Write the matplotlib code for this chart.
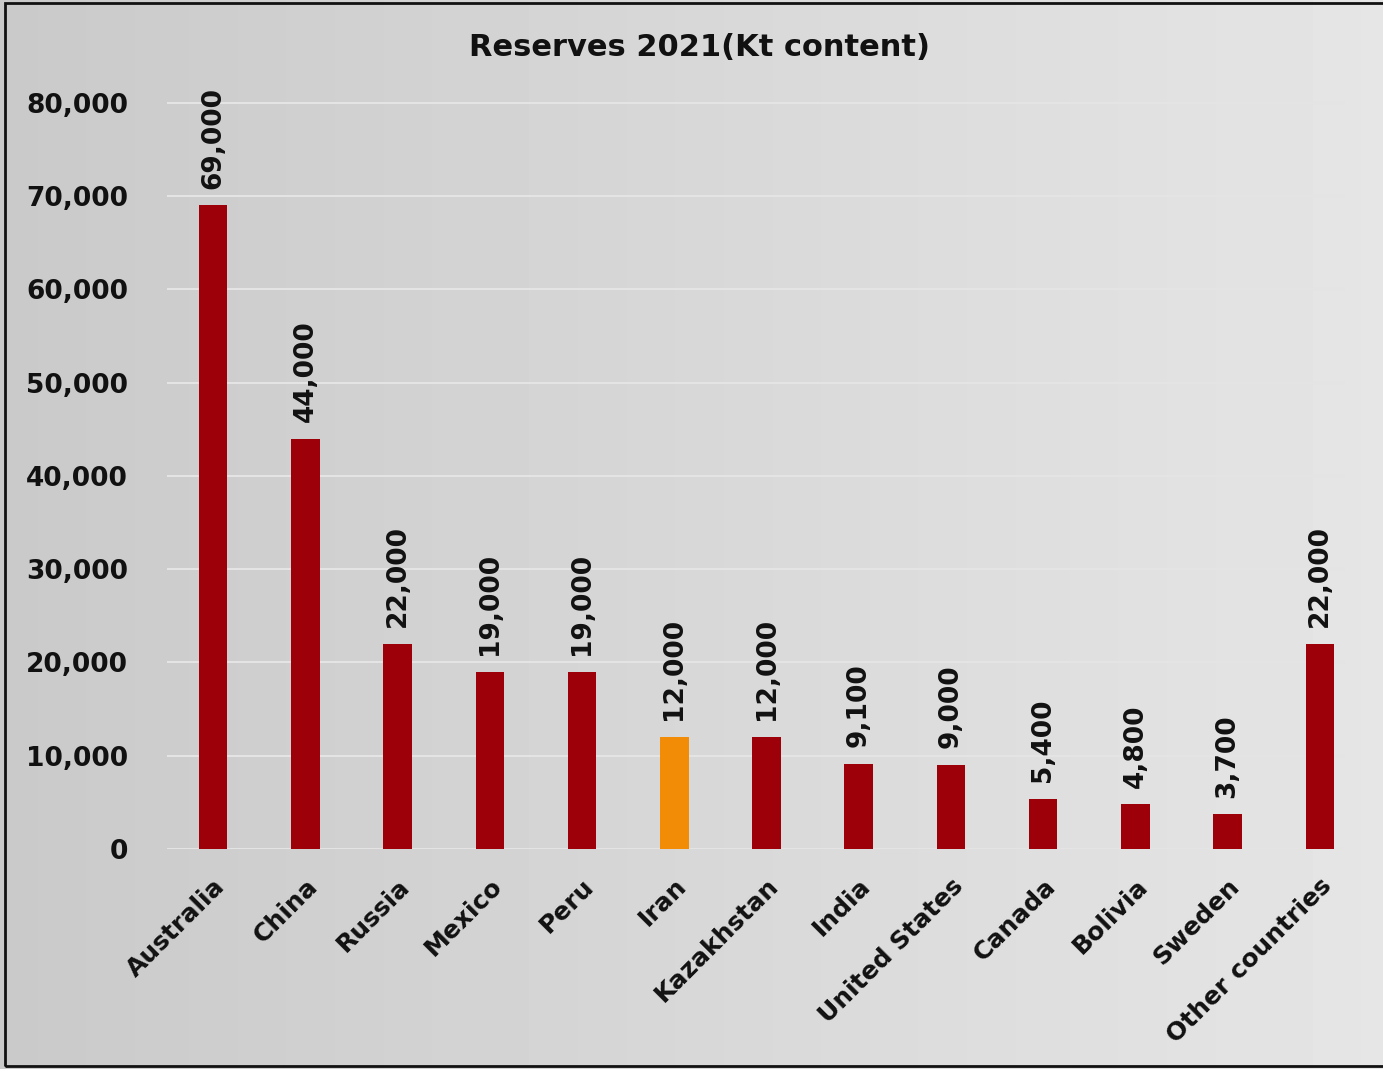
import matplotlib.pyplot as plt
import numpy as np
from matplotlib.patches import Rectangle

countries = ["Australia", "China", "Russia", "Mexico", "Peru", "Iran", "Kazakhstan",
             "India", "United States", "Canada", "Bolivia", "Sweden", "Other countries"]
reserves = [69000, 44000, 22000, 19000, 19000, 12000, 12000, 9100, 9000, 5400, 4800, 3700, 22000]
highlight = "Iran"

red = "#9e0009"
orange = "#f28c06"
font = "DejaVu Sans"

fig = plt.figure(figsize=(13.83, 10.69), dpi=100)

# grey paper-like background, lighter to the right
bg = fig.add_axes([0, 0, 1, 1], zorder=-10)
grad = np.linspace(0.79, 0.90, 256)[None, :] * np.ones((16, 1))
bg.imshow(grad, cmap="gray", vmin=0, vmax=1, aspect="auto", extent=[0, 1, 0, 1])
bg.set_axis_off()
fig.patches.append(Rectangle((5 / 1383, 3 / 1069), 1.2, 1063 / 1069, transform=fig.transFigure,
                             fill=False, edgecolor="#111111", linewidth=2))

ax = fig.add_axes([0.1208, 0.2058, 0.8669, 0.7156])
ax.patch.set_alpha(0)
x = np.arange(len(countries))
colors = [orange if c == highlight else red for c in countries]
ax.bar(x, reserves, width=0.31, color=colors, zorder=3)

for xi, v in zip(x, reserves):
    ax.annotate(f"{v:,}", (xi, v), xytext=(0, 12), textcoords="offset points",
                rotation=90, ha="center", va="bottom", fontsize=19,
                fontweight="bold", family=font, color="#111111")

yticks = np.arange(0, 80001, 10000)
ax.set_xlim(-0.5, len(countries) - 0.5)
ax.set_ylim(0, 82000)
ax.set_yticks(yticks)
ax.set_yticklabels([f"{t:,}" for t in yticks],
                   fontsize=19, fontweight="bold", family=font, color="#111111")
ax.set_xticks(x)
ax.set_xticklabels(countries, rotation=45, ha="right", rotation_mode="anchor",
                   fontsize=18, fontweight="bold", family=font, color="#111111")
ax.tick_params(axis="y", length=0, pad=28)
ax.tick_params(axis="x", length=0, pad=18)
ax.hlines(yticks, -0.52, len(countries) - 0.73, color="#e4e4e4", linewidth=1.5, zorder=0)
for s in ax.spines.values():
    s.set_visible(False)

fig.text(0.506, 0.956, "Reserves 2021(Kt content)", ha="center", va="center",
         fontsize=22, fontweight="bold", family=font, color="#111111")

fig.savefig("out.png", dpi=100)
